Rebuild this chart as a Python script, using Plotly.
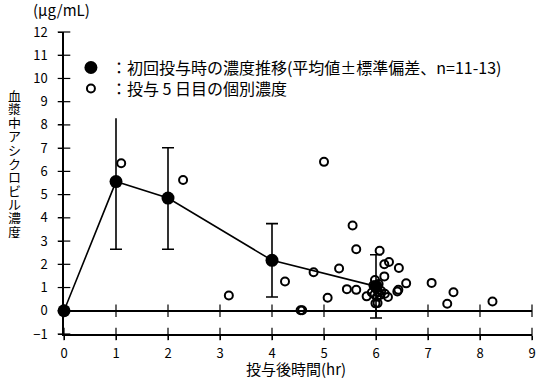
import plotly.graph_objects as go

# ---- data ----
mean_t = [0, 1, 2, 4, 6]
mean_c = [0, 5.56, 4.85, 2.17, 1.05]
sd_up = [0, 2.73, 2.17, 1.58, 1.36]
sd_dn = [0, 2.91, 2.20, 1.58, 1.36]

ind_t = [1.10, 2.29, 3.17, 4.25, 4.55, 4.58, 4.80, 5.00, 5.07, 5.29, 5.44, 5.55,
         5.62, 5.62, 5.82, 5.92, 5.98, 5.95, 6.00, 6.05, 5.97, 6.02, 6.08, 6.10,
         6.05, 5.99, 6.03, 6.07, 6.16, 6.25, 6.16, 6.44, 6.17, 6.23, 6.41, 6.43,
         6.58, 7.07, 7.37, 7.49, 8.24]
ind_c = [6.35, 5.63, 0.66, 1.26, 0.02, 0.02, 1.66, 6.41, 0.56, 1.82, 0.93, 3.67,
         2.65, 0.90, 0.62, 0.79, 1.32, 1.10, 0.95, 0.80, 0.70, 0.60, 0.68, 0.85,
         1.15, 0.32, 0.33, 2.58, 2.00, 2.10, 1.48, 1.84, 0.73, 0.59, 0.83, 0.90,
         1.18, 1.20, 0.30, 0.80, 0.40]

x_ticks = list(range(0, 10))
y_ticks = list(range(-1, 13))

legend_mean = "：初回投与時の濃度推移(平均値±標準偏差、n=11-13)"
legend_ind = "：投与 5 日目の個別濃度"
x_title = "投与後時間(hr)"
y_title = "血漿中アシクロビル濃度"
unit_label = "(μg/mL)"

FONT = "Noto Sans CJK JP"
fig = go.Figure()

# crossing tick marks (decoration built from tick arrays)
fig.add_trace(go.Scatter(x=[0] * len(y_ticks), y=y_ticks, mode="markers",
                         marker=dict(symbol="line-ew", size=9, line=dict(color="black", width=1.2)),
                         cliponaxis=False, showlegend=False, hoverinfo="skip"))
fig.add_trace(go.Scatter(x=x_ticks, y=[0] * len(x_ticks), mode="markers",
                         marker=dict(symbol="line-ns", size=9, line=dict(color="black", width=1.2)),
                         cliponaxis=False, showlegend=False, hoverinfo="skip"))
fig.add_trace(go.Scatter(x=x_ticks, y=[-1] * len(x_ticks), mode="markers",
                         marker=dict(symbol="line-ns", size=9, line=dict(color="black", width=1.2)),
                         cliponaxis=False, showlegend=False, hoverinfo="skip"))

# error bars
capped = [i for i in range(len(mean_t)) if i >= 2]
fig.add_trace(go.Scatter(x=mean_t, y=mean_c, mode="markers", marker=dict(size=1, opacity=0),
                         error_y=dict(type="data", symmetric=False,
                                      array=[0] * len(mean_t), arrayminus=sd_dn,
                                      color="black", thickness=1.6, width=6),
                         cliponaxis=False, showlegend=False, hoverinfo="skip"))
fig.add_trace(go.Scatter(x=[mean_t[i] for i in capped], y=[mean_c[i] for i in capped],
                         mode="markers", marker=dict(size=1, opacity=0),
                         error_y=dict(type="data", symmetric=False,
                                      array=[sd_up[i] for i in capped], arrayminus=[0] * len(capped),
                                      color="black", thickness=1.6, width=6),
                         cliponaxis=False, showlegend=False, hoverinfo="skip"))
fig.add_trace(go.Scatter(x=[mean_t[1]], y=[mean_c[1]], mode="markers", marker=dict(size=1, opacity=0),
                         error_y=dict(type="data", symmetric=False, array=[sd_up[1]], arrayminus=[0],
                                      color="black", thickness=1.6, width=0),
                         cliponaxis=False, showlegend=False, hoverinfo="skip"))

# mean line
fig.add_trace(go.Scatter(x=mean_t, y=mean_c, mode="lines+markers",
                         line=dict(color="black", width=1.6),
                         marker=dict(size=13, color="black"),
                         cliponaxis=False, showlegend=False))

# individual points
fig.add_trace(go.Scatter(x=ind_t, y=ind_c, mode="markers",
                         marker=dict(symbol="circle-open", size=8, color="black",
                                     line=dict(width=2, color="black")),
                         cliponaxis=False, showlegend=False))

# legend entries (two legends positioned independently)
fig.add_trace(go.Scatter(x=[None], y=[None], mode="markers", name=legend_mean,
                         marker=dict(size=13, color="black"), legend="legend"))
fig.add_trace(go.Scatter(x=[None], y=[None], mode="markers", name=legend_ind,
                         marker=dict(symbol="circle-open", size=8, color="black",
                                     line=dict(width=2, color="black")), legend="legend2"))

# titles
annotations = []
n = len(y_title)
step = 13.6
for i, ch in enumerate(y_title):
    annotations.append(dict(text=ch, xref="paper", yref="paper", x=0, y=0.5,
                            xshift=-50, yshift=20.5 + ((n - 1) / 2 - i) * step,
                            xanchor="center", yanchor="middle", height=14,
                            showarrow=False, font=dict(family=FONT, size=13, color="black")))
annotations.append(dict(text=x_title, xref="paper", yref="paper", x=0.5, y=0, yshift=-34,
                        xshift=-2, xanchor="center", yanchor="middle", showarrow=False,
                        font=dict(family=FONT, size=15, color="black")))
annotations.append(dict(text=unit_label, xref="paper", yref="paper", x=0, y=1, xshift=-33, yshift=23,
                        xanchor="left", yanchor="middle", showarrow=False,
                        font=dict(family=FONT, size=15, color="black")))

leg_common = dict(xanchor="left", yanchor="top", bgcolor="rgba(0,0,0,0)",
                  font=dict(family=FONT, size=16, color="black"), itemwidth=30)

fig.update_layout(
    width=539, height=380,
    margin=dict(l=64, r=3, t=32, b=46),
    paper_bgcolor="white", plot_bgcolor="white",
    font=dict(family=FONT, color="black", size=13),
    showlegend=True,
    legend=dict(x=0.0148, y=0.9385, **leg_common),
    legend2=dict(x=0.0148, y=0.869, **leg_common),
    annotations=annotations,
    xaxis=dict(range=[0, 9], tickvals=x_ticks, showgrid=False, zeroline=False,
               showline=True, linecolor="black", linewidth=1.5,
               ticks="outside", ticklen=4, tickcolor="black", tickwidth=1.2,
               tickfont=dict(size=13, family=FONT), ticklabelstandoff=3,
               ticklabeloverflow="allow"),
    yaxis=dict(range=[-1, 12], tickvals=y_ticks, showgrid=False,
               zeroline=True, zerolinecolor="black", zerolinewidth=1.5,
               showline=True, linecolor="black", linewidth=1.5,
               ticks="outside", ticklen=4, tickcolor="black", tickwidth=1.2,
               tickfont=dict(size=13, family=FONT), ticklabelstandoff=8),
)

fig.write_html("out.html", config={"displayModeBar": False},
               post_script="document.body.style.margin='0';")
